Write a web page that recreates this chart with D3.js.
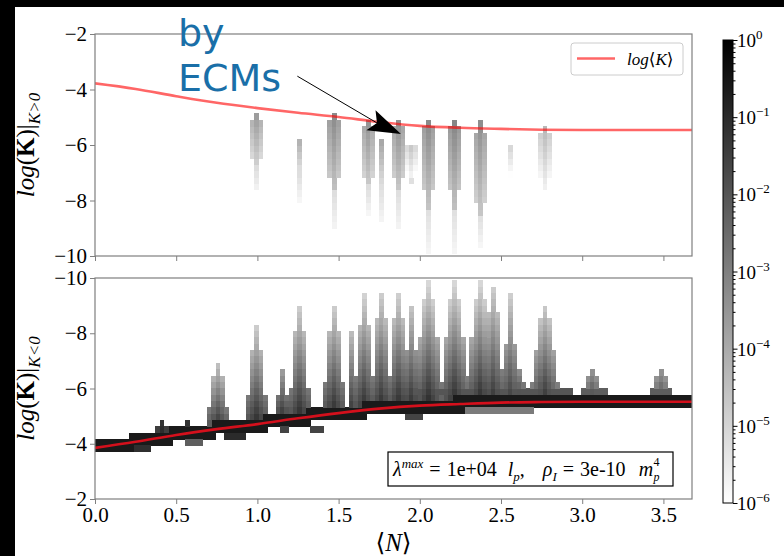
<!DOCTYPE html>
<html>
<head>
<meta charset="utf-8">
<script src="https://cdn.jsdelivr.net/npm/d3@7/dist/d3.min.js"></script>
<style>
  body { margin: 0; background: #000; }
  svg { display: block; }
  text { font-family: "Liberation Serif", "DejaVu Serif", serif; }
</style>
</head>
<body>
<svg id="fig" width="784" height="556"></svg>
<script>
'use strict';

// ---- data ----
// mean curve log<K> vs <N>
var meanN       = [0, 0.25, 0.5, 0.75, 1.0, 1.25, 1.5, 1.75, 2.0, 2.25, 2.5, 2.75, 3.0, 3.25, 3.5, 3.676];
var meanLogKpos = [-3.78, -3.98, -4.24, -4.48, -4.67, -4.84, -4.99, -5.17, -5.31, -5.38, -5.42, -5.45, -5.46, -5.46, -5.46, -5.46];
var meanLogKneg = [-3.85, -4.07, -4.32, -4.53, -4.71, -4.92, -5.11, -5.27, -5.38, -5.44, -5.49, -5.51, -5.52, -5.52, -5.52, -5.52];

// K>0 histogram columns: position, top, end of dense part, end of faint tail, half width (bins), log10 density
var posSpikeN     = [1.0, 1.26, 1.47, 1.67, 1.765, 1.865, 1.95, 2.06, 2.2, 2.38, 2.555, 2.78];
var posSpikeTop   = [-4.83, -5.7, -4.83, -5.03, -5.7, -5.03, -5.9, -5.03, -5.03, -5.1, -5.93, -5.34];
var posSpikeDark  = [-6.8, -7.0, -7.7, -7.5, -7.4, -7.6, -7.26, -8.2, -8.2, -8.5, -7.37, -7.6];
var posSpikeTail  = [-7.7, -8.0, -9.06, -8.45, -8.8, -9.06, -7.4, -9.9, -9.9, -9.6, -7.5, -7.7];
var posSpikeHalfW = [1, 0, 1, 1, 0, 1, 1, 1, 1, 1, 0, 1];
var posSpikeLevel = [-3.6, -4.0, -3.2, -3.4, -3.8, -3.3, -4.5, -3.2, -3.1, -3.3, -4.9, -4.3];

// K<0 histogram columns: position, top, half width at base (bins), log10 density at base and tip
var negSpikeN     = [0.40, 0.57, 0.745, 1.0, 1.145, 1.26, 1.46, 1.58, 1.665, 1.765, 1.875, 1.96, 2.06, 2.2, 2.37, 2.45, 2.555, 2.62, 2.78, 3.07, 3.48];
var negSpikeTop   = [-4.85, -4.85, -6.9, -8.2, -6.7, -9.1, -9.1, -8.05, -9.4, -9.55, -9.5, -9.1, -9.95, -9.95, -9.95, -9.8, -9.5, -6.7, -9.1, -6.7, -6.7];
var negSpikeHalfW = [1, 0, 2, 2, 1, 2, 2, 0, 2, 2, 2, 1, 3, 3, 3, 2, 1, 1, 3, 2, 2];
var negSpikeBase  = [-1.0, -1.0, -1.3, -1.2, -1.3, -1.2, -1.2, -1.5, -1.2, -1.2, -1.2, -1.3, -1.1, -1.1, -1.1, -1.3, -1.5, -1.6, -1.3, -1.8, -2.0];
var negSpikeTip   = [-1.3, -1.3, -4.6, -4.8, -3.8, -5.0, -5.0, -4.5, -5.0, -5.0, -5.0, -4.8, -5.2, -5.2, -5.2, -5.0, -5.0, -3.5, -4.9, -3.6, -3.6];

// extra K<0 blocks off the main band: N from, N to, logK from, logK to, log10 density
var negPatchN0 = [0.08, 0.21, 0.58, 0.82, 1.14, 1.33, 1.93, 1.9, 2.0, 3.0, 3.42];
var negPatchN1 = [0.18, 0.33, 0.66, 0.91, 1.19, 1.385, 1.99, 2.7, 2.92, 3.13, 3.55];
var negPatchK0 = [-4.2, -3.95, -4.2, -4.4, -4.66, -4.66, -5.1, -5.33, -6.0, -6.0, -6.0];
var negPatchK1 = [-3.72, -3.72, -3.95, -4.15, -4.44, -4.44, -4.85, -5.07, -5.8, -5.8, -5.8];
var negPatchLv = [-0.9, -1.1, -2.2, -1.0, -1.6, -1.6, -1.6, -2.9, -2.0, -2.2, -2.2];

var xTicks = [0, 0.5, 1.0, 1.5, 2.0, 2.5, 3.0, 3.5];
var yTicks = [-2, -4, -6, -8, -10];
var cbTicks = [1e0, 1e-1, 1e-2, 1e-3, 1e-4, 1e-5, 1e-6];

// ---- layout ----
var svg = d3.select('#fig');
var left = 95, right = 692;
var x = d3.scaleLinear().domain([0, 3.676]).range([left, right]);
var yPos = d3.scaleLinear().domain([-2, -10]).range([34, 256]);
var yNeg = d3.scaleLinear().domain([-10, -2]).range([278, 499]);
var cb = d3.scaleLog().domain([1e-6, 1]).range([503, 40]);
var grey = d3.scaleLog().domain([1e-6, 1]).range(['#ffffff', '#000000']).clamp(true);
var kNegAt = d3.scaleLinear().domain(meanN).range(meanLogKneg);

svg.append('rect').attr('x', 15).attr('y', 7).attr('width', 769).attr('height', 549).attr('fill', '#fff');

var dx = 0.0265, dy = 0.23, yOrigin = -10.15;
var nx = Math.ceil(3.676 / dx), ny = Math.ceil((-2 - yOrigin) / dy);
function yc(iy) { return yOrigin + (iy + 0.5) * dy; }

function makeGrid() {
  var g = new Map();
  g.put = function (ix, iy, lv) {
    if (ix < 0 || ix >= nx || iy < 0 || iy >= ny) return;
    var key = ix + ',' + iy;
    if (!g.has(key) || g.get(key).lv < lv) g.set(key, { ix: ix, iy: iy, lv: lv });
  };
  return g;
}

// K>0 cells
var posGrid = makeGrid();
posSpikeN.forEach(function (n, i) {
  var ic = Math.floor(n / dx);
  var top = posSpikeTop[i], dark = posSpikeDark[i], tail = posSpikeTail[i];
  for (var iy = 0; iy < ny; iy++) {
    var v = yc(iy);
    if (v > top || v < tail) continue;
    var f, lv, hw;
    if (v >= dark) {
      f = (top - v) / (top - dark);
      lv = posSpikeLevel[i] - 1.4 * f;
      hw = (f < 0.12 || f > 0.85) ? 0 : posSpikeHalfW[i];
    } else {
      f = (dark - v) / (dark - tail);
      lv = -5.2 - 0.6 * f;
      hw = 0;
    }
    for (var k = -hw; k <= hw; k++) posGrid.put(ic + k, iy, lv - 0.4 * Math.abs(k));
  }
});

// K<0 cells: main band, off-band blocks, spikes
var negGrid = makeGrid();
for (var ix = 0; ix < nx; ix++) {
  var line = kNegAt((ix + 0.5) * dx);
  for (var iy = 0; iy < ny; iy++) {
    if (Math.abs(yc(iy) - line) <= 0.24) negGrid.put(ix, iy, -0.6);
  }
}
negPatchN0.forEach(function (n0, i) {
  for (var ix = Math.floor(n0 / dx); ix * dx < negPatchN1[i]; ix++) {
    for (var iy = 0; iy < ny; iy++) {
      var v = yc(iy);
      if (v >= negPatchK0[i] && v <= negPatchK1[i]) negGrid.put(ix, iy, negPatchLv[i]);
    }
  }
});
negSpikeN.forEach(function (n, i) {
  var ic = Math.floor(n / dx);
  var base = kNegAt(n) - 0.2, top = negSpikeTop[i];
  for (var iy = 0; iy < ny; iy++) {
    var v = yc(iy);
    if (v > base || v < top) continue;
    var f = (base - v) / (base - top);
    var hw = Math.round(negSpikeHalfW[i] * (1 - f));
    var lv = negSpikeBase[i] + (negSpikeTip[i] - negSpikeBase[i]) * f;
    for (var k = -hw; k <= hw; k++) negGrid.put(ic + k, iy, lv - 0.4 * Math.abs(k));
  }
});

// ---- panels ----
function panel(name, y, grid, meanK, lineColor, lineOpacity, labelSub) {
  var g = svg.append('g').attr('class', name);
  var r = y.range();
  var top = Math.min(r[0], r[1]), bottom = Math.max(r[0], r[1]);
  g.append('clipPath').attr('id', 'clip-' + name)
    .append('rect').attr('x', left).attr('y', top).attr('width', right - left).attr('height', bottom - top);
  var plot = g.append('g').attr('clip-path', 'url(#clip-' + name + ')');

  var cells = Array.from(grid.values());
  plot.selectAll('rect.cell').data(cells).enter().append('rect')
    .attr('class', 'cell')
    .attr('shape-rendering', 'crispEdges')
    .attr('x', function (d) { return x(d.ix * dx); })
    .attr('width', function (d) { return x((d.ix + 1) * dx) - x(d.ix * dx) + 0.5; })
    .attr('y', function (d) { return Math.min(y(yOrigin + d.iy * dy), y(yOrigin + (d.iy + 1) * dy)); })
    .attr('height', function (d) { return Math.abs(y(yOrigin + (d.iy + 1) * dy) - y(yOrigin + d.iy * dy)) + 0.5; })
    .attr('fill', function (d) { return grey(Math.pow(10, d.lv)); });

  plot.append('path')
    .datum(meanN.map(function (n, i) { return [n, meanK[i]]; }))
    .attr('d', d3.line().curve(d3.curveMonotoneX).x(function (d) { return x(d[0]); }).y(function (d) { return y(d[1]); }))
    .attr('fill', 'none').attr('stroke', lineColor).attr('stroke-opacity', lineOpacity).attr('stroke-width', 2.6);

  g.append('rect').attr('x', left).attr('y', top).attr('width', right - left).attr('height', bottom - top)
    .attr('fill', 'none').attr('stroke', '#7f7f7f').attr('stroke-width', 1.2);

  var ya = g.append('g').attr('transform', 'translate(' + left + ',0)')
    .call(d3.axisLeft(y).tickValues(yTicks).tickSize(5).tickPadding(3)
      .tickFormat(function (d) { return String(d).replace('-', '\u2212'); }));
  ya.select('.domain').remove();
  ya.selectAll('line').attr('stroke', '#7f7f7f');
  ya.selectAll('text').attr('font-size', 21).attr('fill', '#000').style('font-family', '"Liberation Serif", serif');

  var xa = g.append('g').attr('transform', 'translate(0,' + bottom + ')')
    .call(d3.axisBottom(x).tickValues(xTicks).tickSize(5).tickPadding(3)
      .tickFormat(name === 'neg' ? d3.format('.1f') : ''));
  xa.select('.domain').remove();
  xa.selectAll('line').attr('stroke', '#7f7f7f');
  xa.selectAll('text').attr('font-size', 21).attr('fill', '#000').style('font-family', '"Liberation Serif", serif');

  var cy = (top + bottom) / 2;
  var lab = g.append('text').attr('transform', 'translate(34,' + cy + ') rotate(-90)')
    .attr('text-anchor', 'middle').attr('font-size', 25);
  lab.append('tspan').attr('font-style', 'italic').text('log');
  lab.append('tspan').text('(');
  lab.append('tspan').attr('font-weight', 'bold').text('K');
  lab.append('tspan').text(')|');
  lab.append('tspan').attr('font-style', 'italic').attr('font-size', 17).attr('dy', 6).text(labelSub);
  return g;
}

panel('pos', yPos, posGrid, meanLogKpos, '#ff0000', 0.6, 'K>0');
panel('neg', yNeg, negGrid, meanLogKneg, '#d4101c', 1, 'K<0');

// x label
var xl = svg.append('text').attr('x', (left + right) / 2).attr('y', 551).attr('text-anchor', 'middle').attr('font-size', 25);
xl.append('tspan').text('\u27E8');
xl.append('tspan').attr('font-style', 'italic').text('N');
xl.append('tspan').text('\u27E9');

// legend
var lg = svg.append('g');
lg.append('rect').attr('x', 571).attr('y', 43).attr('width', 112).attr('height', 32).attr('rx', 3)
  .attr('fill', '#fff').attr('stroke', '#cccccc');
lg.append('line').attr('x1', 577).attr('x2', 615).attr('y1', 58.5).attr('y2', 58.5)
  .attr('stroke', '#ff0000').attr('stroke-opacity', 0.6).attr('stroke-width', 2.6);
var lt = lg.append('text').attr('x', 627).attr('y', 65).attr('font-size', 17);
lt.append('tspan').attr('font-style', 'italic').text('log');
lt.append('tspan').text('\u27E8');
lt.append('tspan').attr('font-style', 'italic').text('K');
lt.append('tspan').text('\u27E9');

// parameter box
var pb = svg.append('g');
pb.append('rect').attr('x', 388).attr('y', 452).attr('width', 285).attr('height', 34)
  .attr('fill', '#fff').attr('stroke', '#000').attr('stroke-width', 1.2);
var pt = pb.append('text').attr('x', 393).attr('y', 476).attr('font-size', 20);
pt.append('tspan').attr('font-style', 'italic').text('\u03BB');
pt.append('tspan').attr('font-style', 'italic').attr('font-size', 13).attr('dy', -8).text('max');
pt.append('tspan').attr('dy', 8).attr('dx', 6).text('=');
pt.append('tspan').attr('dx', 6).text('1e+04');
pt.append('tspan').attr('dx', 11).attr('font-style', 'italic').text('l');
pt.append('tspan').attr('font-style', 'italic').attr('font-size', 13).attr('dy', 5).text('p');
pt.append('tspan').attr('dy', -5).text(',');
pt.append('tspan').attr('dx', 18).attr('font-style', 'italic').text('\u03C1');
pt.append('tspan').attr('font-style', 'italic').attr('font-size', 13).attr('dy', 5).text('I');
pt.append('tspan').attr('dy', -5).attr('dx', 6).text('=');
pt.append('tspan').attr('dx', 6).text('3e-10');
pt.append('tspan').attr('dx', 13).attr('font-style', 'italic').text('m');
var bb = pt.node().getBBox();
var mEnd = bb.x + bb.width;
pb.append('text').attr('x', mEnd + 0.5).attr('y', 466).attr('font-size', 12).text('4');
pb.append('text').attr('x', mEnd + 0.5).attr('y', 481).attr('font-size', 12).attr('font-style', 'italic').text('p');

// colorbar
var defs = svg.append('defs');
var grad = defs.append('linearGradient').attr('id', 'cbgrad').attr('x1', 0).attr('x2', 0).attr('y1', 0).attr('y2', 1);
grad.append('stop').attr('offset', '0%').attr('stop-color', grey(1));
grad.append('stop').attr('offset', '100%').attr('stop-color', grey(1e-6));
svg.append('rect').attr('x', 723).attr('y', 40).attr('width', 10).attr('height', 463)
  .attr('fill', 'url(#cbgrad)').attr('stroke', '#000').attr('stroke-width', 1);
var minor = [];
for (var e = -6; e < 0; e++) for (var m = 2; m <= 9; m++) minor.push(m * Math.pow(10, e));
var cbMinor = svg.append('g').attr('transform', 'translate(733,0)')
  .call(d3.axisRight(cb).tickValues(minor).tickSize(2.5).tickFormat(''));
cbMinor.select('.domain').remove();
var cbMajor = svg.append('g').attr('transform', 'translate(733,0)')
  .call(d3.axisRight(cb).tickValues(cbTicks).tickSize(4.5).tickFormat(''));
cbMajor.select('.domain').remove();
cbTicks.forEach(function (t) {
  var ex = Math.round(Math.log10(t));
  var tx = svg.append('text').attr('x', 737).attr('y', cb(t) + 7).attr('font-size', 19);
  tx.append('tspan').text('10');
  tx.append('tspan').attr('font-size', 13).attr('dy', -8).text(ex === 0 ? '0' : '\u2212' + (-ex));
});

// annotation "by ECMs"
var tip = [x(1.884), yPos(-5.6)], tail = [x(1.246), yPos(-3.52)];
var ang = Math.atan2(tip[1] - tail[1], tip[0] - tail[0]) - 0.08;
var hl = 33, hw = 11;
function pt2(a, b) { return [tip[0] - a * Math.cos(ang) + b * Math.sin(ang), tip[1] - a * Math.sin(ang) - b * Math.cos(ang)]; }
var neck = pt2(hl * 0.8, 0);
svg.append('line').attr('x1', tail[0]).attr('y1', tail[1]).attr('x2', neck[0]).attr('y2', neck[1])
  .attr('stroke', '#000').attr('stroke-width', 1);
svg.append('path').attr('d', 'M' + [tip, pt2(hl, hw), neck, pt2(hl, -hw)].join('L') + 'Z').attr('fill', '#000');
var ann = svg.append('g').attr('fill', '#1a6fa8').attr('font-size', 38);
ann.append('text').attr('x', 178).attr('y', 46).style('font-family', '"DejaVu Sans", sans-serif').text('by');
ann.append('text').attr('x', 178).attr('y', 91).style('font-family', '"DejaVu Sans", sans-serif').text('ECMs');
</script>
</body>
</html>
